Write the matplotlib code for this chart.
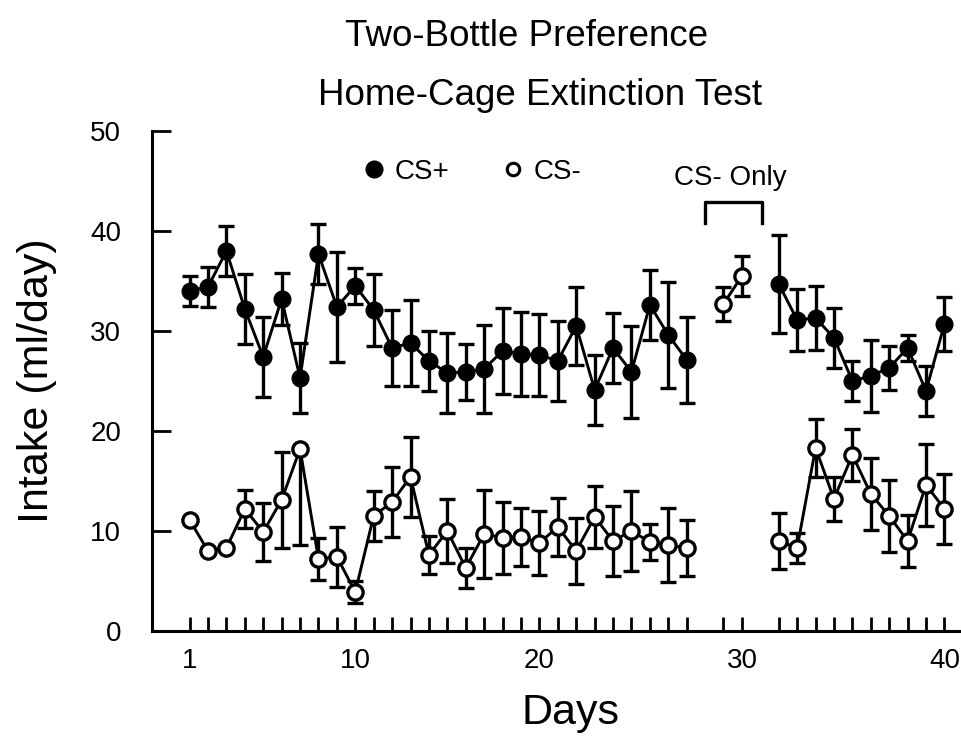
import matplotlib
matplotlib.use("Agg")
import matplotlib.pyplot as plt
from matplotlib.lines import Line2D

plt.rcParams['font.family'] = ['Liberation Sans', 'DejaVu Sans']

# session positions on the x axis (gaps at 29 and 32)
pos_a = list(range(1, 29))
pos_only = [30, 31]
pos_b = list(range(33, 43))

# CS+ intake, first phase (mean, sem)
csp_a = [34.0, 34.4, 38.0, 32.2, 27.4, 33.2, 25.3, 37.7, 32.4, 34.5, 32.1, 28.3, 28.8, 27.0,
         25.8, 25.9, 26.2, 28.0, 27.7, 27.6, 27.0, 30.5, 24.1, 28.3, 25.9, 32.6, 29.6, 27.1]
csp_a_sem = [1.5, 2.0, 2.5, 3.5, 4.0, 2.6, 3.5, 3.0, 5.5, 1.8, 3.6, 3.8, 4.3, 3.0,
             4.0, 2.8, 4.4, 4.3, 4.2, 4.1, 4.0, 3.9, 3.5, 3.5, 4.6, 3.5, 5.3, 4.3]
# CS+ intake, after CS- only days
csp_b = [34.7, 31.1, 31.3, 29.3, 25.0, 25.5, 26.3, 28.3, 24.0, 30.7]
csp_b_sem = [4.9, 3.1, 3.2, 3.0, 2.0, 3.6, 2.2, 1.3, 2.5, 2.7]

# CS- only days
cs_only = [32.7, 35.5]
cs_only_sem = [1.7, 2.0]

# CS- intake, first phase
csm_a = [11.1, 8.0, 8.3, 12.2, 9.9, 13.1, 18.2, 7.2, 7.4, 3.9, 11.5, 12.9, 15.4, 7.6,
         10.0, 6.3, 9.7, 9.3, 9.4, 8.8, 10.4, 8.0, 11.4, 9.0, 10.0, 8.9, 8.6, 8.3]
csm_a_sem = [0.0, 0.0, 0.0, 1.9, 2.9, 4.8, 9.6, 2.1, 3.0, 1.1, 2.5, 3.5, 4.0, 1.9,
             3.2, 2.0, 4.4, 3.6, 2.9, 3.2, 2.9, 3.3, 3.1, 3.5, 4.0, 1.8, 3.7, 2.8]
csm_a_no_upper = [7]  # day whose upper bar is not drawn
# CS- intake, second phase
csm_b = [9.0, 8.3, 18.3, 13.2, 17.6, 13.7, 11.5, 9.0, 14.6, 12.2]
csm_b_sem = [2.8, 1.5, 2.9, 2.2, 2.6, 3.6, 3.6, 2.6, 4.1, 3.5]

tick_pos = [1, 10, 20, 31, 42]
tick_lab = ['1', '10', '20', '30', '40']

fig = plt.figure(figsize=(9.61, 7.44), dpi=100)
ax = fig.add_axes([0.158, 0.152, 0.842, 0.672])

ebkw = dict(fmt='none', ecolor='black', elinewidth=2.4, capsize=5.8, capthick=2.4, zorder=2)
full = dict(color='black', marker='o', markersize=12, markerfacecolor='black',
            markeredgecolor='black', linewidth=2.1, zorder=3)
hollow = dict(color='black', marker='o', markersize=11, markerfacecolor='white',
              markeredgecolor='black', markeredgewidth=2.4, linewidth=2.1, zorder=3)

for x, y, e in [(pos_a, csp_a, csp_a_sem), (pos_b, csp_b, csp_b_sem)]:
    ax.errorbar(x, y, yerr=e, **ebkw)
    ax.plot(x, y, **full)

ax.errorbar(pos_only, cs_only, yerr=cs_only_sem, **ebkw)
ax.plot(pos_only, cs_only, **hollow)

upper = [0.0 if p in csm_a_no_upper else s for p, s in zip(pos_a, csm_a_sem)]
ax.errorbar(pos_a, csm_a, yerr=[csm_a_sem, upper], **ebkw)
ax.plot(pos_a, csm_a, **hollow)
ax.errorbar(pos_b, csm_b, yerr=csm_b_sem, **ebkw)
ax.plot(pos_b, csm_b, **hollow)

# bracket over the CS- only days
bx0, bx1 = pos_only[0] - 1, pos_only[-1] + 1.1
ax.plot([bx0, bx0, bx1, bx1], [40.8, 42.9, 42.9, 40.8], color='black', lw=2.4, clip_on=False)
ax.text((bx0 + bx1) / 2 - 0.2, 45.3, 'CS- Only', ha='center', va='center', fontsize=20)

ax.set_xlim(-1.05, 42.9)
ax.set_ylim(0, 50)
ax.set_xticks(pos_a + pos_only + pos_b)
ax.set_xticklabels([tick_lab[tick_pos.index(p)] if p in tick_pos else '' for p in pos_a + pos_only + pos_b])
ax.set_yticks([0, 10, 20, 30, 40, 50])
ax.tick_params(axis='x', direction='in', length=10, width=2, labelsize=20, pad=12)
ax.tick_params(axis='y', direction='in', length=14, width=2, labelsize=20, pad=22)
for s in ['top', 'right']:
    ax.spines[s].set_visible(False)
for s in ['left', 'bottom']:
    ax.spines[s].set_linewidth(2.2)

ax.set_ylabel('Intake (ml/day)', fontsize=31, labelpad=24)
ax.set_xlabel('Days', fontsize=31)
ax.xaxis.set_label_coords(0.517, -0.125)

handles = [Line2D([], [], linestyle='none', marker='o', markersize=12, color='black'),
           Line2D([], [], linestyle='none', marker='o', markersize=9, markerfacecolor='white',
                  markeredgecolor='black', markeredgewidth=2.2)]
fig.legend(handles, ['CS+', 'CS-'], ncol=2, frameon=False, loc='center',
           bbox_to_anchor=(0.49, 0.769), fontsize=20, handletextpad=0.25,
           columnspacing=1.8, handlelength=1.0)

fig.text(0.548, 0.951, 'Two-Bottle Preference', ha='center', va='center', fontsize=26.5)
fig.text(0.562, 0.872, 'Home-Cage Extinction Test', ha='center', va='center', fontsize=26.5)

fig.savefig('out.png', dpi=100)
